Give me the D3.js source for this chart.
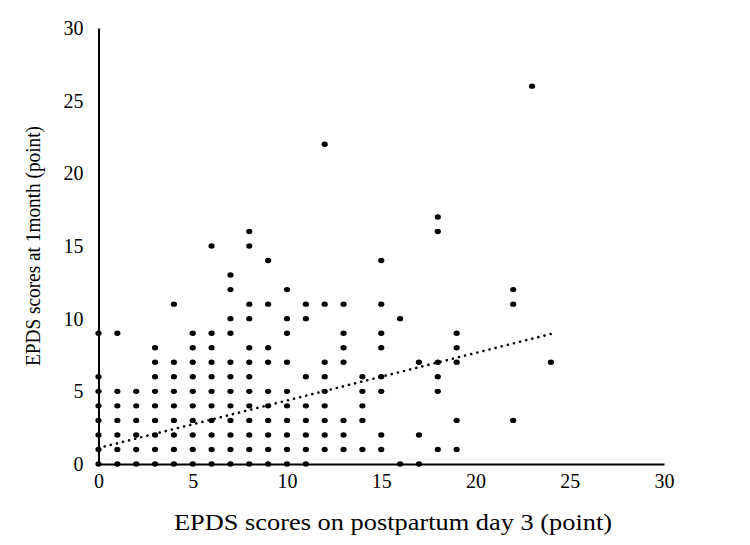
<!DOCTYPE html>
<html>
<head>
<meta charset="utf-8">
<script src="https://cdn.jsdelivr.net/npm/d3@7"></script>
<style>
  body { margin: 0; background: #fff; }
  svg text { font-family: "Liberation Serif", "DejaVu Serif", serif; fill: #000; }
</style>
</head>
<body>
<div class="chart"></div>
<script>
// EPDS score on day 3 (x) and the 1 month scores seen at each x (y)
const day3Scores = [0, 1, 2, 3, 4, 5, 6, 7, 8, 9, 10, 11, 12, 13, 14, 15, 16, 17, 18, 19, 22, 23, 24];
const month1Scores = [
  [0, 1, 2, 3, 4, 5, 6, 9],
  [0, 1, 2, 3, 4, 5, 9],
  [0, 1, 2, 3, 4, 5],
  [0, 1, 2, 3, 4, 5, 6, 7, 8],
  [0, 1, 2, 3, 4, 5, 6, 7, 11],
  [0, 1, 2, 3, 4, 5, 6, 7, 8, 9],
  [0, 1, 2, 3, 4, 5, 6, 7, 8, 9, 15],
  [0, 1, 2, 3, 4, 5, 6, 7, 9, 10, 12, 13],
  [0, 1, 2, 3, 4, 5, 6, 7, 8, 10, 11, 15, 16],
  [0, 1, 2, 3, 4, 5, 7, 8, 11, 14],
  [0, 1, 2, 3, 4, 5, 7, 9, 10, 12],
  [0, 1, 2, 3, 4, 6, 10, 11],
  [1, 2, 3, 4, 5, 6, 7, 11, 22],
  [1, 2, 3, 7, 8, 9, 11],
  [1, 3, 4, 5, 6],
  [1, 2, 5, 6, 8, 9, 11, 14],
  [0, 10],
  [0, 2, 7],
  [1, 5, 6, 7, 16, 17],
  [1, 3, 7, 8, 9],
  [3, 11, 12],
  [26],
  [7]
];
// linear trend line end points
const trendX = [0, 24];
const trendY = [1.1, 8.95];
const tickValues = [0, 5, 10, 15, 20, 25, 30];

const width = 750, height = 545;
const svg = d3.select(".chart").append("svg")
  .attr("width", width)
  .attr("height", height);

const x = d3.scaleLinear().domain([0, 30]).range([98.5, 664]);
const y = d3.scaleLinear().domain([0, 30]).range([464, 28]);

const points = [];
day3Scores.forEach((d, i) => {
  month1Scores[i].forEach(m => points.push({ x: d, y: m }));
});

// axes
const xAxis = svg.append("g")
  .attr("transform", `translate(0,${y(0)})`)
  .call(d3.axisBottom(x).tickValues(tickValues).tickSize(0).tickPadding(10));
const yAxis = svg.append("g")
  .attr("transform", `translate(${x(0)},0)`)
  .call(d3.axisLeft(y).tickValues(tickValues).tickSize(0).tickPadding(15));

[xAxis, yAxis].forEach(g => {
  g.select(".domain").attr("stroke", "#000").attr("stroke-width", 2);
  g.selectAll("text")
   .attr("font-family", "'Liberation Serif', serif")
   .attr("font-size", 20)
   .attr("fill", "#000");
});

// trend line
svg.append("path")
  .datum(trendX.map((d, i) => [d, trendY[i]]))
  .attr("fill", "none")
  .attr("stroke", "#000")
  .attr("stroke-width", 2.6)
  .attr("stroke-linecap", "round")
  .attr("stroke-dasharray", "0.1,6.2")
  .attr("d", d3.line().x(d => x(d[0])).y(d => y(d[1])));

// points
svg.append("g")
  .selectAll("ellipse")
  .data(points)
  .join("ellipse")
  .attr("cx", d => x(d.x))
  .attr("cy", d => y(d.y))
  .attr("rx", 3.1)
  .attr("ry", 2.7)
  .attr("fill", "#000");

// axis titles
svg.append("text")
  .attr("x", 393)
  .attr("y", 530)
  .attr("text-anchor", "middle")
  .attr("font-size", 23)
  .attr("textLength", 438)
  .attr("lengthAdjust", "spacingAndGlyphs")
  .text("EPDS scores on postpartum day 3 (point)");

svg.append("text")
  .attr("transform", `translate(40,246) rotate(-90)`)
  .attr("text-anchor", "middle")
  .attr("font-size", 21)
  .attr("textLength", 240)
  .attr("lengthAdjust", "spacingAndGlyphs")
  .text("EPDS scores at 1month (point)");
</script>
</body>
</html>
